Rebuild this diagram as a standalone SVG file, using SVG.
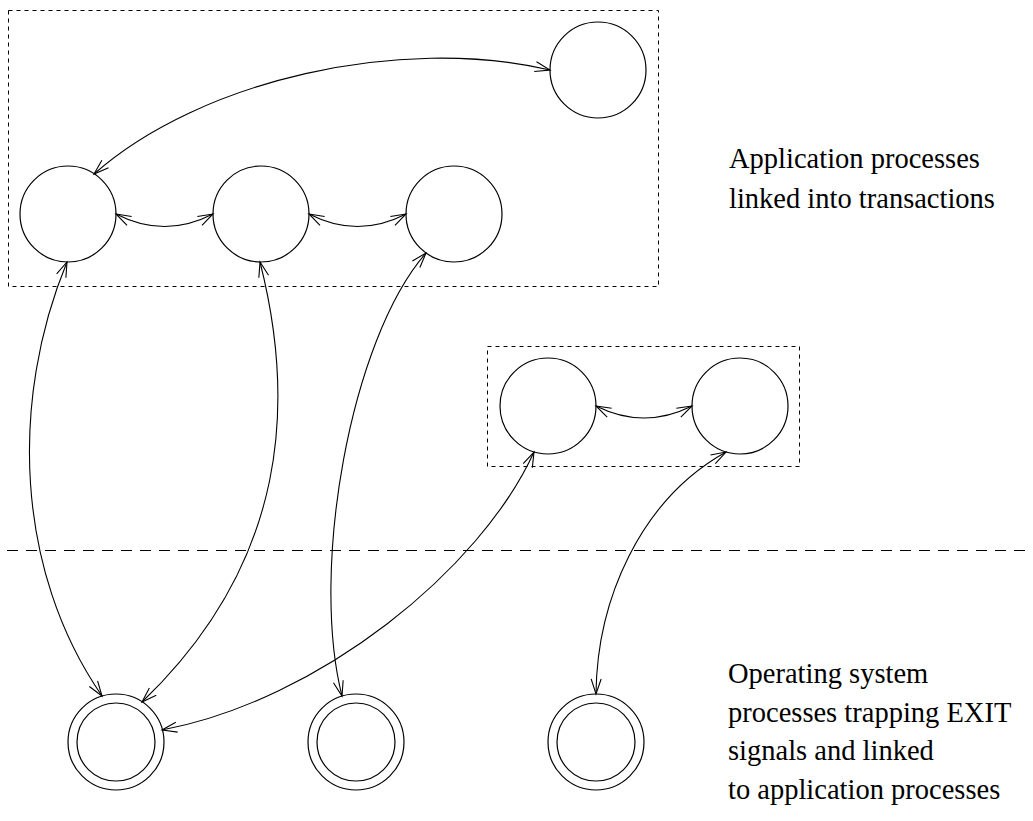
<svg xmlns="http://www.w3.org/2000/svg" width="1033" height="821" viewBox="0 0 1033 821">
<style>
.node{fill:none;stroke:#000;stroke-width:1.2}
.box{fill:none;stroke:#000;stroke-width:1;stroke-dasharray:4 4}
.sep{fill:none;stroke:#000;stroke-width:1;stroke-dasharray:11 8}
.link{fill:none;stroke:#000;stroke-width:1.1;marker-start:url(#ah);marker-end:url(#ah)}
.lbl{font-family:"Liberation Serif","Times New Roman",serif;font-size:28.5px;fill:#000}
</style>
<defs>
<marker id="ah" markerUnits="userSpaceOnUse" markerWidth="40" markerHeight="40" viewBox="-20 -20 40 40" refX="0" refY="0" orient="auto-start-reverse" overflow="visible">
<path d="M-15,-5 L0,0 L-15,5" fill="none" stroke="#000" stroke-width="1.1"/>
</marker>
</defs>
<rect class="box" x="8.5" y="10.5" width="650" height="276"/>
<rect class="box" x="487.5" y="346.5" width="312" height="120"/>
<line class="sep" x1="7" y1="550.5" x2="1033" y2="550.5"/>
<g id="app-top"><circle class="node" cx="598" cy="70" r="48"/></g>
<g id="app-1"><circle class="node" cx="68" cy="214" r="48"/></g>
<g id="app-2"><circle class="node" cx="261" cy="214" r="48"/></g>
<g id="app-3"><circle class="node" cx="454" cy="214" r="48"/></g>
<g id="app-4"><circle class="node" cx="548" cy="406" r="48"/></g>
<g id="app-5"><circle class="node" cx="740" cy="406" r="48"/></g>
<g id="sys-1"><circle class="node" cx="116" cy="742" r="48"/><circle class="node" cx="116" cy="742" r="39"/></g>
<g id="sys-2"><circle class="node" cx="356" cy="742" r="48"/><circle class="node" cx="356" cy="742" r="39"/></g>
<g id="sys-3"><circle class="node" cx="596" cy="742" r="48"/><circle class="node" cx="596" cy="742" r="39"/></g>
<g id="connectors">
<path class="link" d="M94,174 C200,80 400,35 550,70"/>
<path class="link" d="M116,214 Q164.5,239 213,214"/>
<path class="link" d="M309,214 Q357.5,239 406,214"/>
<path class="link" d="M596,406 Q644,430 692,406"/>
<path class="link" d="M67,262 C10,400 15,570 102,696"/>
<path class="link" d="M260,262 C295,400 290,560 142,702"/>
<path class="link" d="M426,253 C350,340 310,570 342,696"/>
<path class="link" d="M534,452 C480,570 320,700 162,730"/>
<path class="link" d="M726,452 C640,500 597,600 596,694"/>
</g>
<g id="label-app">
<text class="lbl" x="729" y="168">Application processes</text>
<text class="lbl" x="729" y="208">linked into transactions</text>
</g>
<g id="label-sys">
<text class="lbl" x="728" y="683">Operating system</text>
<text class="lbl" x="728" y="722">processes trapping EXIT</text>
<text class="lbl" x="728" y="760">signals and linked</text>
<text class="lbl" x="728" y="799">to application processes</text>
</g>
</svg>
